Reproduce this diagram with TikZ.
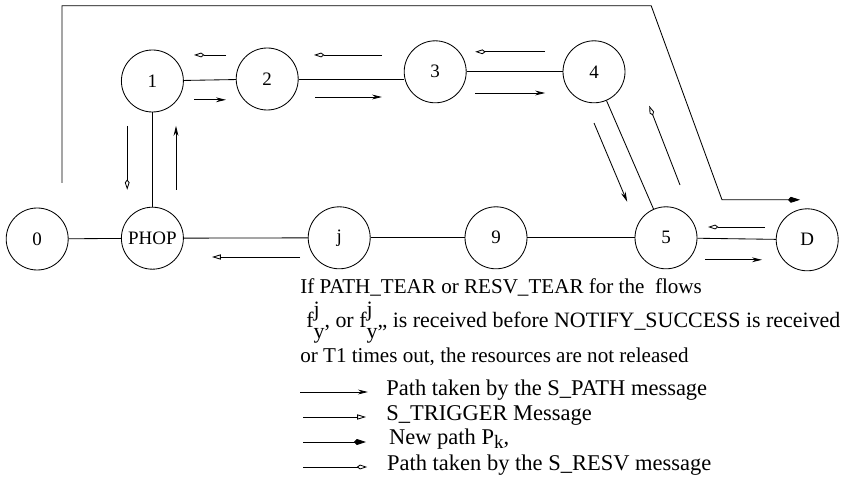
\documentclass[tikz,border=0pt]{standalone}
\usepackage{fontspec}
\setmainfont{Liberation Serif}
\usetikzlibrary{arrows.meta}
\newcommand{\fjy}{f\rlap{\raisebox{1.0ex}{j}}\raisebox{-1.1ex}{y}}
\tikzset{%
    stn/.style={circle, draw, line width=0.6pt, minimum size=1.55cm, inner sep=0pt, font=\fontsize{13.5}{15}\selectfont},
    lnk/.style={line width = 0.6pt},
    pth/.style={line width = 0.6pt, -{Stealth[length=2.5mm, width=1.2mm, inset=0.8mm]}},
    trg/.style={line width = 0.6pt, -{Triangle[open, length=2.2mm, width=1.3mm]}},
    npa/.style={line width = 0.6pt, -{Kite[length=3mm, width=1.5mm, inset=0.7mm]}},
    rsv/.style={line width = 0.6pt, -{Kite[open, length=2.6mm, width=1.2mm, inset=0.8mm]}},
    txt/.style={anchor=base west, inner sep=0pt, font=\fontsize{15}{18}\selectfont},
    lgd/.style={anchor=mid west, inner sep=0pt, font=\fontsize{16}{18}\selectfont},
}
\begin{document}
\begin{tikzpicture}
    \useasboundingbox (0,0) rectangle (21.45,11.975);
    \node[stn] (n0) at (0.93,6.0) {0};
    \node[stn] (phop) at (3.81,6.02) {PHOP};
    \node[stn] (nj) at (8.48,6.03) {j};
    \node[stn] (n9) at (12.40,6.03) {9};
    \node[stn] (n5) at (16.65,6.03) {5};
    \node[stn] (nD) at (20.18,5.98) {D};
    \node[stn] (n1) at (3.81,9.95) {1};
    \node[stn] (n2) at (6.68,10.0) {2};
    \node[stn] (n3) at (10.88,10.18) {3};
    \node[stn] (n4) at (14.85,10.18) {4};
    \draw[lnk] (n0) -- (phop);
    \draw[lnk] (phop) -- (nj);
    \draw[lnk] (nj) -- (n9);
    \draw[lnk] (n9) -- (n5);
    \draw[lnk] (n5) -- (nD);
    \draw[lnk] (phop) -- (n1);
    \draw[lnk] (n1) -- (n2);
    \draw[lnk] (n2) -- (n2 -| n3.west);
    \draw[lnk] (n3) -- (n4);
    \draw[lnk] (n4) -- (n5);
    \coordinate (np0) at (1.55,7.4);
    \coordinate (np1) at (20.0,6.98);
    \draw[npa] (np0) |- (16.28,11.83) -- (18.05,6.98) -- (np1);
    \draw[rsv] (5.65,10.6) -- (4.85,10.6);
    \draw[pth] (4.85,9.48) -- (5.65,9.48);
    \draw[rsv] (9.55,10.6) -- (7.85,10.6);
    \draw[pth] (7.88,9.55) -- (9.55,9.55);
    \draw[rsv] (13.63,10.68) -- (11.88,10.68);
    \draw[pth] (11.88,9.65) -- (13.63,9.65);
    \draw[pth] (14.85,8.9) -- (15.68,6.93);
    \draw[rsv] (17.0,7.35) -- (16.23,9.33);
    \draw[rsv] (19.13,6.3) -- (17.7,6.3);
    \draw[pth] (17.63,5.48) -- (19.05,5.48);
    \draw[rsv] (3.18,8.83) -- (3.18,7.23);
    \draw[pth] (4.4,7.23) -- (4.4,8.83);
    \draw[trg] (7.5,5.55) -- (5.3,5.55);
    \node[txt] (tx1) at (7.5,4.65) {If PATH\_TEAR or RESV\_TEAR for the\ \ flows};
    \node[txt, font=\fontsize{15.6}{18}\selectfont] (tx2) at (7.65,3.8) {\fjy, or \fjy,, is received before NOTIFY\_SUCCESS is received};
    \node[txt] (tx3) at (7.5,2.925) {or T1 times out, the resources are not released};
    \draw[pth] (7.5,2.175) -- (9.2,2.175);
    \node[lgd] (lg1) at (9.65,2.175) {Path taken by the S\_PATH message};
    \draw[trg] (7.58,1.55) -- (9.15,1.55);
    \node[lgd] (lg2) at (9.65,1.55) {S\_TRIGGER Message};
    \draw[npa] (7.58,0.925) -- (9.15,0.925);
    \node[lgd] (lg3) at (9.72,0.94) {New path P\raisebox{-0.35ex}{\fontsize{13.5}{14}\selectfont k},};
    \draw[rsv] (7.58,0.3) -- (9.18,0.3);
    \node[lgd] (lg4) at (9.67,0.3) {Path taken by the S\_RESV message};
\end{tikzpicture}
\end{document}
